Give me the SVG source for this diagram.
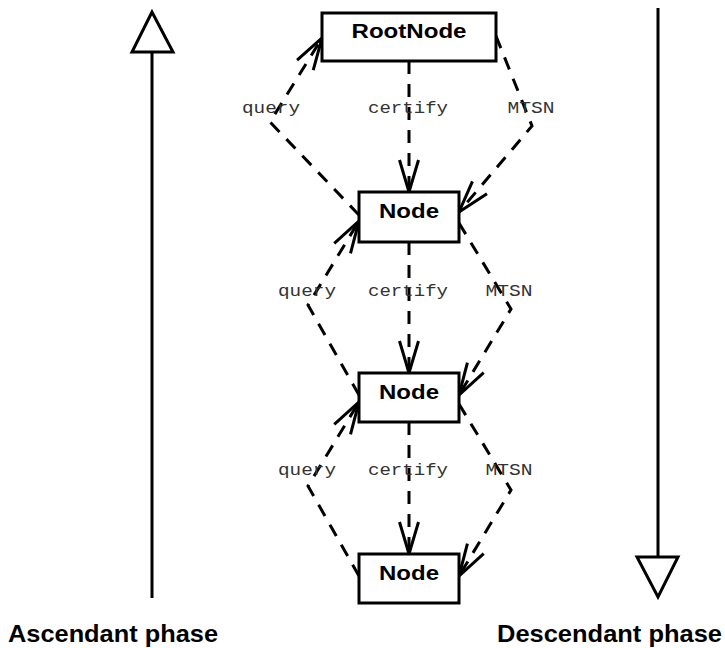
<svg xmlns="http://www.w3.org/2000/svg" width="725" height="648" viewBox="0 0 725 648">
<style>
.box{fill:#fff;stroke:#000;stroke-width:3}
.nl{font-family:"Liberation Sans",Arial,sans-serif;font-weight:bold;font-size:21px;fill:#000;text-anchor:middle}
.el{font-family:"Liberation Mono","Courier New",monospace;font-size:17px;fill:#333;text-anchor:middle}
.edge{fill:none;stroke:#000;stroke-width:3;stroke-dasharray:13,10;marker-end:url(#vee)}
.phase{fill:none;stroke:#000;stroke-width:3}
.pl{font-family:"Liberation Sans",Arial,sans-serif;font-weight:bold;font-size:24px;fill:#000}
</style>
<defs>
<marker id="vee" markerUnits="userSpaceOnUse" markerWidth="40" markerHeight="30" refX="32" refY="12" orient="auto" overflow="visible">
<path d="M0,2.5 L32,12 L0,21.5" fill="none" stroke="#000" stroke-width="3"/>
</marker>
</defs>
<g id="phases">
<line class="phase" x1="152" y1="598" x2="152" y2="52"/>
<polygon class="phase" points="152,12 132,52 173,52"/>
<line class="phase" x1="658" y1="8" x2="658" y2="557"/>
<polygon class="phase" points="637,557 678,557 658,597"/>
<text class="pl" x="8" y="642" textLength="210" lengthAdjust="spacingAndGlyphs">Ascendant phase</text>
<text class="pl" x="497" y="642" textLength="225" lengthAdjust="spacingAndGlyphs">Descendant phase</text>
</g>
<g id="connectors">
<path class="edge" d="M409,61 L409,192"/>
<path class="edge" d="M359,215 L270,122 L322,38"/>
<path class="edge" d="M496,36 L532,126 L459,212"/>
<path class="edge" d="M409,242 L409,373"/>
<path class="edge" d="M359,395 L308,305 L359,221"/>
<path class="edge" d="M459,223 L511,309 L459,395"/>
<path class="edge" d="M409,422 L409,554"/>
<path class="edge" d="M359,576 L308,486 L359,402"/>
<path class="edge" d="M459,404 L511,490 L459,576"/>
<text class="el" x="271" y="113" textLength="58" lengthAdjust="spacingAndGlyphs">query</text>
<text class="el" x="408" y="113" textLength="80" lengthAdjust="spacingAndGlyphs">certify</text>
<text class="el" x="531" y="113" textLength="47" lengthAdjust="spacingAndGlyphs">MTSN</text>
<text class="el" x="307" y="296" textLength="58" lengthAdjust="spacingAndGlyphs">query</text>
<text class="el" x="408" y="296" textLength="80" lengthAdjust="spacingAndGlyphs">certify</text>
<text class="el" x="509" y="296" textLength="47" lengthAdjust="spacingAndGlyphs">MTSN</text>
<text class="el" x="307" y="475" textLength="58" lengthAdjust="spacingAndGlyphs">query</text>
<text class="el" x="408" y="475" textLength="80" lengthAdjust="spacingAndGlyphs">certify</text>
<text class="el" x="509" y="475" textLength="47" lengthAdjust="spacingAndGlyphs">MTSN</text>
</g>
<g id="RootNode">
<rect class="box" x="322" y="13" width="174" height="48"/>
<text class="nl" x="409" y="38" textLength="115" lengthAdjust="spacingAndGlyphs">RootNode</text>
</g>
<g id="Node1">
<rect class="box" x="359" y="192" width="100" height="50"/>
<text class="nl" x="409" y="218" textLength="60" lengthAdjust="spacingAndGlyphs">Node</text>
</g>
<g id="Node2">
<rect class="box" x="359" y="373" width="100" height="49"/>
<text class="nl" x="409" y="399" textLength="60" lengthAdjust="spacingAndGlyphs">Node</text>
</g>
<g id="Node3">
<rect class="box" x="359" y="554" width="100" height="49"/>
<text class="nl" x="409" y="580" textLength="60" lengthAdjust="spacingAndGlyphs">Node</text>
</g>
</svg>
